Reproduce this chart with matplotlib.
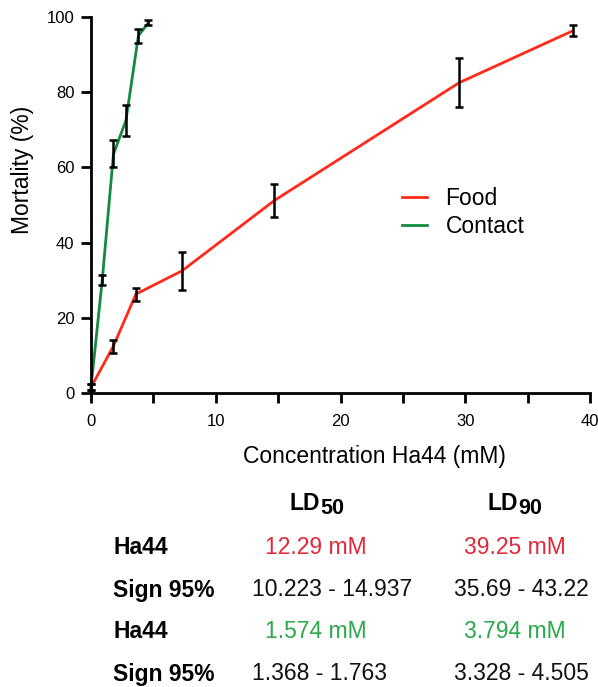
import matplotlib
matplotlib.use("Agg")
import matplotlib.pyplot as plt
from matplotlib.ticker import MultipleLocator

plt.rcParams['font.family'] = ['Liberation Sans', 'DejaVu Sans']

food_x = [0.0, 1.8, 3.6, 7.3, 14.7, 29.5, 38.6]
food_y = [1.5, 12.5, 26.3, 32.5, 51.2, 82.5, 96.3]
food_lo = [0.8, 10.7, 24.5, 27.5, 46.8, 76.0, 95.0]
food_hi = [2.3, 14.2, 28.0, 37.5, 55.6, 89.0, 97.8]

contact_x = [0.0, 0.9, 1.8, 2.8, 3.8, 4.6]
contact_y = [1.5, 30.0, 63.5, 72.5, 95.0, 98.5]
contact_lo = [0.8, 28.7, 60.0, 68.3, 93.2, 97.8]
contact_hi = [2.3, 31.3, 67.2, 76.7, 96.8, 99.3]

row_labels = ["Ha44", "Sign 95%", "Ha44", "Sign 95%"]
ld50_vals = ["12.29 mM", "10.223 - 14.937", "1.574 mM", "1.368 - 1.763"]
ld90_vals = ["39.25 mM", "35.69 - 43.22", "3.794 mM", "3.328 - 4.505"]
row_colors = ["#e0283a", "#111111", "#2aa84a", "#111111"]

RED = "#ff2a1a"
GREEN = "#138a3e"

fig = plt.figure(figsize=(5.98, 6.87), dpi=100)
ax = fig.add_axes([91 / 598, 1 - 393 / 687, 499 / 598, 376 / 687])

def draw(x, y, lo, hi, color, label):
    ax.plot(x, y, color=color, lw=2.0, label=label, zorder=2, clip_on=False)
    yerr = [[yy - l for yy, l in zip(y, lo)], [h - yy for yy, h in zip(y, hi)]]
    eb = ax.errorbar(x, y, yerr=yerr, fmt='none', ecolor='black', elinewidth=1.8,
                     capsize=3.2, capthick=1.8, zorder=3)
    for a in list(eb.lines[1]) + list(eb.lines[2]):
        a.set_clip_on(False)

draw(food_x, food_y, food_lo, food_hi, RED, "Food")
draw(contact_x, contact_y, contact_lo, contact_hi, GREEN, "Contact")

ax.set_xlim(0, 40)
ax.set_ylim(0, 100)
ax.set_xticks([0, 10, 20, 30, 40])
ax.xaxis.set_minor_locator(MultipleLocator(5))
ax.set_yticks([0, 20, 40, 60, 80, 100])
for s in ['top', 'right']:
    ax.spines[s].set_visible(False)
for s in ['left', 'bottom']:
    ax.spines[s].set_linewidth(2.0)
ax.tick_params(axis='both', which='both', direction='out', length=7, width=2.0, labelsize=12)
ax.tick_params(axis='x', which='both', pad=8)
ax.tick_params(axis='y', pad=5)
ax.set_xlabel("Concentration Ha44 (mM)", fontsize=16.5)
ax.set_ylabel("Mortality (%)", fontsize=16.5)
ax.xaxis.set_label_coords((374 - 91) / 499, -(445 - 393) / 376)
ax.yaxis.set_label_coords(-(91 - 34) / 499, (393 - 170) / 376)

ax.legend(loc='upper left', bbox_to_anchor=(402 / 598, 1 - 187 / 687),
          bbox_transform=fig.transFigure, frameon=False, fontsize=16.5,
          handlelength=1.1, handletextpad=0.8, labelspacing=0.2,
          borderpad=0, borderaxespad=0)

# table
def fx(px):
    return px / 598.0
def fy(py):
    return 1 - py / 687.0

for split, sub in [(320, "50"), (518, "90")]:
    fig.text(fx(split), fy(504), "LD", ha='right', va='center', fontsize=16.5, fontweight='bold')
    fig.text(fx(split), fy(508), sub, ha='left', va='center', fontsize=15.5, fontweight='bold')

ys = [548, 590, 632, 674]
for lab, v50, v90, c, yy in zip(row_labels, ld50_vals, ld90_vals, row_colors, ys):
    fig.text(fx(113), fy(yy), lab, ha='left', va='center', fontsize=16.5, fontweight='bold')
    if c == "#111111":
        fig.text(fx(252), fy(yy), v50, ha='left', va='center', fontsize=16.5, color=c)
        fig.text(fx(454), fy(yy), v90, ha='left', va='center', fontsize=16.5, color=c)
    else:
        fig.text(fx(316), fy(yy), v50, ha='center', va='center', fontsize=16.5, color=c)
        fig.text(fx(515), fy(yy), v90, ha='center', va='center', fontsize=16.5, color=c)

fig.savefig("out.png", dpi=100)
